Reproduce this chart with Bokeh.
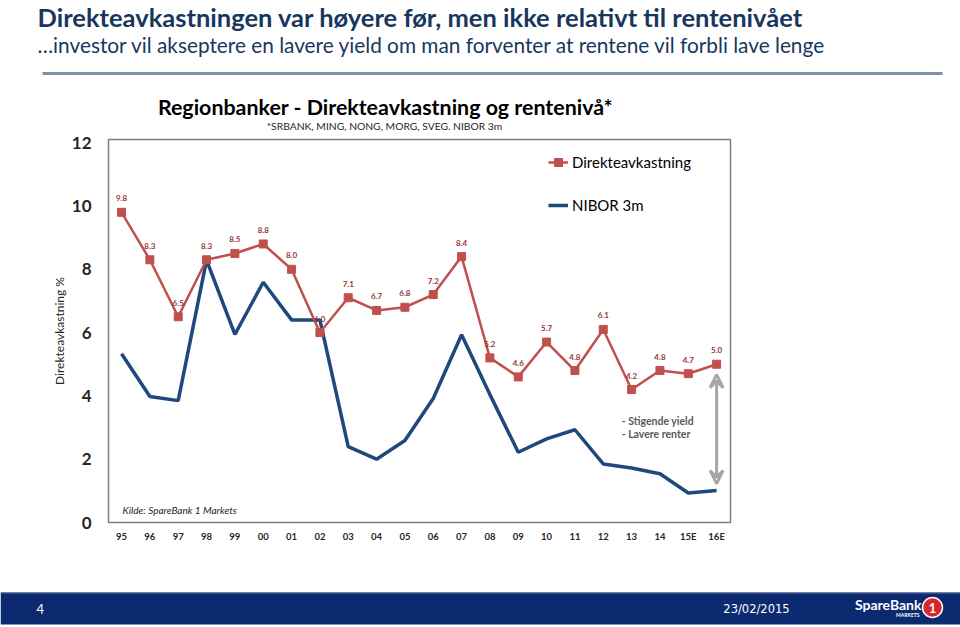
import numpy as np
from bokeh.plotting import figure
from bokeh.models import (Range1d, FixedTicker, Label, LabelSet, ColumnDataSource,
                          Legend, LegendItem, Arrow, VeeHead)
from bokeh.layouts import column, row
from bokeh.embed import file_html
from bokeh.resources import INLINE
from bokeh.core.properties import value

# ---------------- data ----------------
years = ["95", "96", "97", "98", "99", "00", "01", "02", "03", "04", "05",
         "06", "07", "08", "09", "10", "11", "12", "13", "14", "15E", "16E"]
direkteavkastning = [9.8, 8.3, 6.5, 8.3, 8.5, 8.8, 8.0, 6.0, 7.1, 6.7, 6.8,
                     7.2, 8.4, 5.2, 4.6, 5.7, 4.8, 6.1, 4.2, 4.8, 4.7, 5.0]
nibor_3m = [5.33, 3.98, 3.85, 8.29, 5.94, 7.59, 6.40, 6.40, 2.40, 2.00, 2.59,
            3.92, 5.93, 4.04, 2.22, 2.64, 2.93, 1.85, 1.72, 1.54, 0.93, 1.01]
y_ticks = [0, 2, 4, 6, 8, 10, 12]

FONT = "Lato"
NAVY = "#17375E"
RED = "#C0504D"
BLUE = "#1F497D"

W = 960


def blank(fig):
    fig.axis.visible = False
    fig.grid.visible = False
    fig.outline_line_color = None
    return fig


# ---------------- header ----------------
HH = 132
hdr = blank(figure(width=W, height=HH, x_range=Range1d(0, W), y_range=Range1d(HH, 0),
                   output_backend="svg", toolbar_location=None, min_border=0))
hdr.text(x=[37], y=[16], text=["Direkteavkastningen var høyere før, men ikke relativt til rentenivået"],
         text_font=value(FONT), text_font_style="bold", text_font_size="25.5px",
         text_color=NAVY, text_baseline="middle", text_align="left")
hdr.text(x=[37], y=[44], text=["…investor vil akseptere en lavere yield om man forventer at rentene vil forbli lave lenge"],
         text_font=value(FONT), text_font_size="20.8px",
         text_color=NAVY, text_baseline="middle", text_align="left")
hdr.segment(x0=[42], y0=[73], x1=[942], y1=[73], line_color="#7F8DAF", line_width=3)
hdr.text(x=[385], y=[106], text=["Regionbanker - Direkteavkastning og rentenivå*"],
         text_font=value(FONT), text_font_style="bold", text_font_size="21.4px",
         text_color="#000000", text_baseline="middle", text_align="center")
hdr.text(x=[384], y=[125], text=["*SRBANK, MING, NONG, MORG, SVEG. NIBOR 3m"],
         text_font=value(FONT), text_font_size="10.3px",
         text_color="#262626", text_baseline="middle", text_align="center")

# ---------------- main chart ----------------
x = list(range(len(years)))
src = ColumnDataSource(dict(x=x, yld=direkteavkastning, nibor=nibor_3m,
                            lbl=[f"{v:.1f}" for v in direkteavkastning]))

p = figure(width=W, height=458, x_range=Range1d(-0.46, len(years) - 0.51),
           y_range=Range1d(0, 12.1), output_backend="svg", toolbar_location=None,
           min_border_left=108, min_border_right=230, min_border_top=7, min_border_bottom=68)
p.xgrid.visible = False
p.ygrid.visible = False
p.outline_line_color = "#808080"
p.outline_line_width = 1.5
p.outline_line_alpha = 1.0

for ax in (p.xaxis, p.yaxis):
    ax.axis_line_color = None
    ax.major_tick_line_color = None
    ax.minor_tick_line_color = None
    ax.major_tick_out = 0
    ax.major_tick_in = 0
    ax.minor_tick_out = 0
    ax.minor_tick_in = 0
    ax.major_label_text_font = FONT
    ax.major_label_text_font_style = "bold"
    ax.major_label_text_color = "#262626"

p.xaxis.ticker = FixedTicker(ticks=x)
p.xaxis.major_label_overrides = {i: years[i] for i in x}
p.xaxis.major_label_text_font_size = "9.5px"
p.xaxis.major_label_standoff = 8

p.yaxis.ticker = FixedTicker(ticks=y_ticks)
p.yaxis.major_label_text_font_size = "17px"
p.yaxis.major_label_standoff = 17
p.yaxis.axis_label = "Direkteavkastning %"
p.yaxis.axis_label_text_font = FONT
p.yaxis.axis_label_text_font_style = "normal"
p.yaxis.axis_label_text_font_size = "12px"
p.yaxis.axis_label_text_color = "#262626"
p.yaxis.axis_label_standoff = 2

blue = p.line("x", "nibor", source=src, line_color=BLUE, line_width=3.5)
red_line = p.line("x", "yld", source=src, line_color=RED, line_width=2.5)
red_sq = p.scatter("x", "yld", source=src, marker="square", size=8,
                   fill_color=RED, line_color=RED)

p.add_layout(LabelSet(x="x", y="yld", text="lbl", source=src, y_offset=14,
                      text_align="center", text_baseline="middle",
                      text_font=value(FONT), text_font_style="bold",
                      text_font_size="8px", text_color="#953735"))

legend = Legend(items=[LegendItem(label="Direkteavkastning", renderers=[red_line, red_sq]),
                       LegendItem(label="NIBOR 3m", renderers=[blue])],
                location=(440, 307), padding=0, margin=0, spacing=23,
                glyph_width=20, glyph_height=20, label_height=20, label_standoff=4,
                label_text_font=FONT, label_text_font_size="15px",
                label_text_color="#000000",
                border_line_color=None, background_fill_alpha=0)
p.add_layout(legend)

p.add_layout(Arrow(start=VeeHead(size=13, line_color="#A6A6A6", line_width=3, fill_color=None),
                   end=VeeHead(size=13, line_color="#A6A6A6", line_width=3, fill_color=None),
                   x_start=x[-1], y_start=direkteavkastning[-1] - 0.33,
                   x_end=x[-1], y_end=nibor_3m[-1] + 0.22,
                   line_color="#A6A6A6", line_width=3))

p.add_layout(Label(x=17.65, y=3.22, text="- Stigende yield", text_font=FONT,
                   text_font_size="10.5px", text_font_style="bold", text_color="#595959",
                   text_baseline="middle", text_align="left"))
p.add_layout(Label(x=17.65, y=2.81, text="- Lavere renter", text_font=FONT,
                   text_font_size="10.5px", text_font_style="bold", text_color="#595959",
                   text_baseline="middle", text_align="left"))
p.add_layout(Label(x=0.035, y=0.41, text="Kilde: SpareBank 1 Markets", text_font=FONT,
                   text_font_size="10px", text_font_style="italic", text_color="#262626",
                   text_baseline="middle", text_align="left"))

# ---------------- footer ----------------
FH = 37
ftr = blank(figure(width=W, height=FH, x_range=Range1d(0, W), y_range=Range1d(FH, 0),
                   output_backend="svg", toolbar_location=None, min_border=0))
ftr.quad(left=[0], right=[W], top=[2], bottom=[34], fill_color="#0B2A6F", line_color=None)
ftr.segment(x0=[0], y0=[2.5], x1=[W], y1=[2.5], line_color="#5A6E9E", line_width=1)
ftr.text(x=[36], y=[18.5], text=["4"], text_font=value(FONT), text_font_size="13px",
         text_color="white", text_baseline="middle", text_align="left")
ftr.text(x=[756], y=[18.5], text=["23/02/2015"], text_font=value("DejaVu Sans"), text_font_size="11.5px",
         text_color="white", text_baseline="middle", text_align="center")
ftr.text(x=[921], y=[13.5], text=["SpareBank"], text_font=value(FONT), text_font_style="bold",
         text_font_size="14px", text_color="white", text_baseline="middle", text_align="right")
ftr.text(x=[919], y=[24], text=["MARKETS"], text_font=value(FONT), text_font_style="bold",
         text_font_size="5px", text_color="white", text_baseline="middle", text_align="right")
ftr.scatter(x=[932], y=[17], size=20, marker="circle", fill_color="#D7262E", line_color="white", line_width=1.5)
ftr.text(x=[932], y=[17], text=["1"], text_font=value(FONT), text_font_style="bold",
         text_font_size="13px", text_color="white", text_baseline="middle", text_align="center")

layout = column(row(hdr), p, row(ftr), spacing=0)
open("out.html", "w").write(file_html(layout, INLINE))
